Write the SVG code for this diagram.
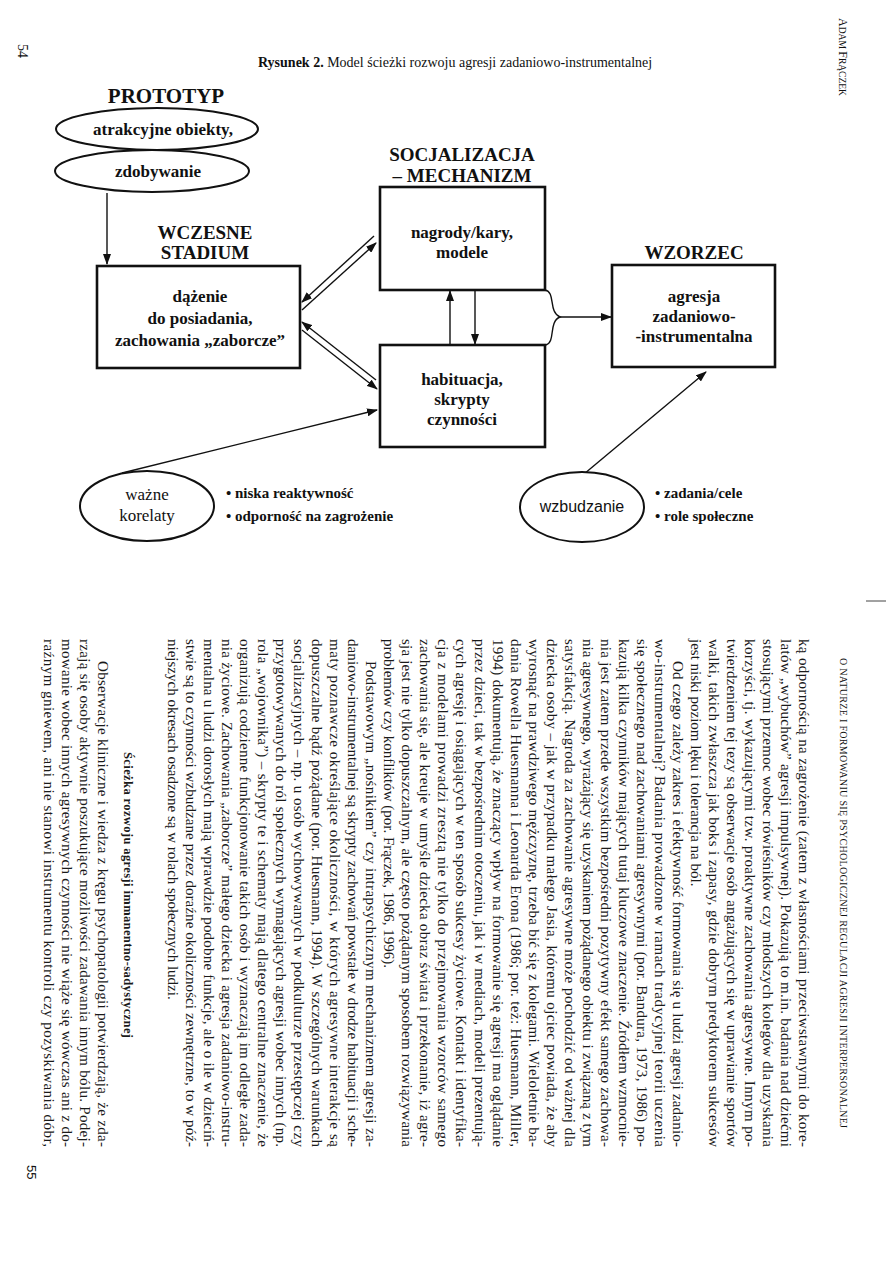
<svg xmlns="http://www.w3.org/2000/svg" width="893" height="1263" viewBox="0 0 893 1263">
<style>
.b{font-family:"Liberation Serif","Times New Roman",serif;font-weight:bold;fill:#111}
.r{font-family:"Liberation Serif","Times New Roman",serif;fill:#111}
.s{font-family:"Liberation Sans",Arial,sans-serif;fill:#111}
.box{fill:#fff;stroke:#111;stroke-width:2.6}
.ell{fill:#fff;stroke:#111;stroke-width:2}
.con{fill:none;stroke:#111;stroke-width:1.4}
.p{font-family:"Liberation Serif","Times New Roman",serif;font-size:15px;fill:#1a1a1a}
</style>
<defs>
<marker id="ah" markerWidth="11" markerHeight="8" refX="10" refY="4" orient="auto" markerUnits="userSpaceOnUse">
<path d="M0,0 L11,4 L0,8 Z" fill="#111"/>
</marker>
</defs>
<rect width="893" height="1263" fill="#fff"/>

<!-- page 54 margin texts -->
<text class="r" font-size="14" transform="translate(18,44) rotate(90)">54</text>
<text class="r" transform="translate(839,18) rotate(90)"><tspan font-size="12">A</tspan><tspan font-size="9.5">DAM </tspan><tspan font-size="12">F</tspan><tspan font-size="9.5">RĄCZEK</tspan></text>
<line x1="866" y1="601" x2="886" y2="601" stroke="#444" stroke-width="1"/>

<!-- caption -->
<text class="r" font-size="14" x="258" y="67"><tspan font-weight="bold">Rysunek 2.</tspan> Model ścieżki rozwoju agresji zadaniowo-instrumentalnej</text>

<!-- labels -->
<text class="b" font-size="21" x="166" y="103" text-anchor="middle">PROTOTYP</text>
<text class="b" font-size="19" x="462" y="161" text-anchor="middle">SOCJALIZACJA</text>
<text class="b" font-size="19" x="462" y="182" text-anchor="middle">– MECHANIZM</text>
<text class="b" font-size="19" x="205" y="239" text-anchor="middle">WCZESNE</text>
<text class="b" font-size="19" x="205" y="259" text-anchor="middle">STADIUM</text>
<text class="b" font-size="19" x="694" y="259" text-anchor="middle">WZORZEC</text>

<!-- connectors -->
<g id="connectors">
<line class="con" x1="107" y1="193" x2="107" y2="264" marker-end="url(#ah)"/>
<line class="con" x1="374" y1="236" x2="302" y2="302" marker-end="url(#ah)"/>
<line class="con" x1="302" y1="310" x2="376" y2="243" marker-end="url(#ah)"/>
<line class="con" x1="376" y1="380" x2="302" y2="322" marker-end="url(#ah)"/>
<line class="con" x1="302" y1="330" x2="377" y2="389" marker-end="url(#ah)"/>
<line class="con" x1="450" y1="345" x2="450" y2="291" marker-end="url(#ah)"/>
<line class="con" x1="475" y1="291" x2="475" y2="344" marker-end="url(#ah)"/>
<path class="con" d="M545,290 C556,292 548,312 560,317 C548,322 556,342 546,345"/>
<line class="con" x1="560" y1="317" x2="611" y2="317" marker-end="url(#ah)"/>
<line class="con" x1="122" y1="473" x2="377" y2="410" marker-end="url(#ah)"/>
<line class="con" x1="584" y1="474" x2="706" y2="372" marker-end="url(#ah)"/>
</g>

<!-- nodes -->
<g id="prototyp">
<ellipse class="ell" cx="157" cy="129" rx="101" ry="21"/>
<text class="b" font-size="17" x="163" y="135" text-anchor="middle">atrakcyjne obiekty,</text>
<ellipse class="ell" cx="152" cy="171" rx="97" ry="21"/>
<text class="b" font-size="17" x="158" y="177" text-anchor="middle">zdobywanie</text>
</g>
<g id="wczesne">
<rect class="box" x="97" y="266" width="203" height="102"/>
<text class="b" font-size="17" x="200" y="302" text-anchor="middle">dążenie</text>
<text class="b" font-size="17" x="200" y="324" text-anchor="middle">do posiadania,</text>
<text class="b" font-size="17" x="200" y="346" text-anchor="middle">zachowania „zaborcze”</text>
</g>
<g id="nagrody">
<rect class="box" x="380" y="187" width="165" height="103"/>
<text class="b" font-size="17" x="462" y="238" text-anchor="middle">nagrody/kary,</text>
<text class="b" font-size="17" x="462" y="258" text-anchor="middle">modele</text>
</g>
<g id="habituacja">
<rect class="box" x="380" y="345" width="165" height="102"/>
<text class="b" font-size="17" x="462" y="385" text-anchor="middle">habituacja,</text>
<text class="b" font-size="17" x="462" y="405" text-anchor="middle">skrypty</text>
<text class="b" font-size="17" x="462" y="425" text-anchor="middle">czynności</text>
</g>
<g id="wzorzec">
<rect class="box" x="612" y="265" width="163" height="102"/>
<text class="b" font-size="17" x="694" y="302" text-anchor="middle">agresja</text>
<text class="b" font-size="17" x="694" y="322" text-anchor="middle">zadaniowo-</text>
<text class="b" font-size="17" x="694" y="342" text-anchor="middle">-instrumentalna</text>
</g>
<g id="korelaty">
<ellipse class="ell" cx="147" cy="506" rx="67" ry="35"/>
<text class="r" font-size="17" x="147" y="500" text-anchor="middle">ważne</text>
<text class="r" font-size="17" x="147" y="521" text-anchor="middle">korelaty</text>
<text class="b" font-size="15" x="226" y="498">• niska reaktywność</text>
<text class="b" font-size="15" x="226" y="521">• odporność na zagrożenie</text>
</g>
<g id="wzbudzanie">
<ellipse class="ell" cx="582" cy="507" rx="62" ry="35"/>
<text class="s" font-size="16" x="582" y="512" text-anchor="middle">wzbudzanie</text>
<text class="b" font-size="15" x="655" y="498">• zadania/cele</text>
<text class="b" font-size="15" x="655" y="521">• role społeczne</text>
</g>

<!-- page 55 text (rotated) -->
<g transform="rotate(90)">
<text class="r" font-size="10" x="658" y="-840" textLength="470" lengthAdjust="spacing">O NATURZE I FORMOWANIU SIĘ PSYCHOLOGICZNEJ REGULACJI AGRESJI INTERPERSONALNEJ</text>
<g class="p">
<text x="639" y="-799" textLength="508" lengthAdjust="spacing">ką odpornością na zagrożenie (zatem z własnościami przeciwstawnymi do kore-</text>
<text x="639" y="-781" textLength="508" lengthAdjust="spacing">latów „wybuchów” agresji impulsywnej). Pokazują to m.in. badania nad dziećmi</text>
<text x="639" y="-763" textLength="508" lengthAdjust="spacing">stosującymi przemoc wobec rówieśników czy młodszych kolegów dla uzyskania</text>
<text x="639" y="-745" textLength="508" lengthAdjust="spacing">korzyści, tj. wykazującymi tzw. proaktywne zachowania agresywne. Innym po-</text>
<text x="639" y="-727" textLength="508" lengthAdjust="spacing">twierdzeniem tej tezy są obserwacje osób angażujących się w uprawianie sportów</text>
<text x="639" y="-709" textLength="508" lengthAdjust="spacing">walki, takich zwłaszcza jak boks i zapasy, gdzie dobrym predyktorem sukcesów</text>
<text x="639" y="-691">jest niski poziom lęku i tolerancja na ból.</text>
<text x="661" y="-673" textLength="486" lengthAdjust="spacing">Od czego zależy zakres i efektywność formowania się u ludzi agresji zadanio-</text>
<text x="639" y="-655" textLength="508" lengthAdjust="spacing">wo-instrumentalnej? Badania prowadzone w ramach tradycyjnej teorii uczenia</text>
<text x="639" y="-637" textLength="508" lengthAdjust="spacing">się społecznego nad zachowaniami agresywnymi (por. Bandura, 1973, 1986) po-</text>
<text x="639" y="-619" textLength="508" lengthAdjust="spacing">kazują kilka czynników mających tutaj kluczowe znaczenie. Źródłem wzmocnie-</text>
<text x="639" y="-601" textLength="508" lengthAdjust="spacing">nia jest zatem przede wszystkim bezpośredni pozytywny efekt samego zachowa-</text>
<text x="639" y="-583" textLength="508" lengthAdjust="spacing">nia agresywnego, wyrażający się uzyskaniem pożądanego obiektu i związaną z tym</text>
<text x="639" y="-565" textLength="508" lengthAdjust="spacing">satysfakcją. Nagroda za zachowanie agresywne może pochodzić od ważnej dla</text>
<text x="639" y="-547" textLength="508" lengthAdjust="spacing">dziecka osoby – jak w przypadku małego Jasia, któremu ojciec powiada, że aby</text>
<text x="639" y="-529" textLength="508" lengthAdjust="spacing">wyrosnąć na prawdziwego mężczyznę, trzeba bić się z kolegami. Wieloletnie ba-</text>
<text x="639" y="-511" textLength="508" lengthAdjust="spacing">dania Rowella Huesmanna i Leonarda Erona (1986; por. też: Huesmann, Miller,</text>
<text x="639" y="-493" textLength="508" lengthAdjust="spacing">1994) dokumentują, że znaczący wpływ na formowanie się agresji ma oglądanie</text>
<text x="639" y="-475" textLength="508" lengthAdjust="spacing">przez dzieci, tak w bezpośrednim otoczeniu, jak i w mediach, modeli prezentują-</text>
<text x="639" y="-456" textLength="508" lengthAdjust="spacing">cych agresję i osiągających w ten sposób sukcesy życiowe. Kontakt i identyfika-</text>
<text x="639" y="-438" textLength="508" lengthAdjust="spacing">cja z modelami prowadzi zresztą nie tylko do przejmowania wzorców samego</text>
<text x="639" y="-420" textLength="508" lengthAdjust="spacing">zachowania się, ale kreuje w umyśle dziecka obraz świata i przekonanie, iż agre-</text>
<text x="639" y="-402" textLength="508" lengthAdjust="spacing">sja jest nie tylko dopuszczalnym, ale często pożądanym sposobem rozwiązywania</text>
<text x="639" y="-384">problemów czy konfliktów (por. Frączek, 1986, 1996).</text>
<text x="661" y="-366" textLength="486" lengthAdjust="spacing">Podstawowym „nośnikiem” czy intrapsychicznym mechanizmem agresji za-</text>
<text x="639" y="-348" textLength="508" lengthAdjust="spacing">daniowo-instrumentalnej są skrypty zachowań powstałe w drodze habituacji i sche-</text>
<text x="639" y="-330" textLength="508" lengthAdjust="spacing">maty poznawcze określające okoliczności, w których agresywne interakcje są</text>
<text x="639" y="-312" textLength="508" lengthAdjust="spacing">dopuszczalne bądź pożądane (por. Huesmann, 1994). W szczególnych warunkach</text>
<text x="639" y="-294" textLength="508" lengthAdjust="spacing">socjalizacyjnych – np. u osób wychowywanych w podkulturze przestępczej czy</text>
<text x="639" y="-276" textLength="508" lengthAdjust="spacing">przygotowywanych do ról społecznych wymagających agresji wobec innych (np.</text>
<text x="639" y="-258" textLength="508" lengthAdjust="spacing">rola „wojownika”) – skrypty te i schematy mają dlatego centralne znaczenie, że</text>
<text x="639" y="-240" textLength="508" lengthAdjust="spacing">organizują codzienne funkcjonowanie takich osób i wyznaczają im odległe zada-</text>
<text x="639" y="-222" textLength="508" lengthAdjust="spacing">nia życiowe. Zachowania „zaborcze” małego dziecka i agresja zadaniowo-instru-</text>
<text x="639" y="-204" textLength="508" lengthAdjust="spacing">mentalna u ludzi dorosłych mają wprawdzie podobne funkcje, ale o ile w dzieciń-</text>
<text x="639" y="-186" textLength="508" lengthAdjust="spacing">stwie są to czynności wzbudzane przez doraźne okoliczności zewnętrzne, to w póź-</text>
<text x="639" y="-168">niejszych okresach osadzone są w rolach społecznych ludzi.</text>
<text x="752" y="-124" font-weight="bold" font-size="12.5" textLength="286" lengthAdjust="spacing">Ścieżka rozwoju agresji immanentno-sadystycznej</text>
<text x="661" y="-98" textLength="486" lengthAdjust="spacing">Obserwacje kliniczne i wiedza z kręgu psychopatologii potwierdzają, że zda-</text>
<text x="639" y="-80" textLength="508" lengthAdjust="spacing">rzają się osoby aktywnie poszukujące możliwości zadawania innym bólu. Podej-</text>
<text x="639" y="-62" textLength="508" lengthAdjust="spacing">mowanie wobec innych agresywnych czynności nie wiąże się wówczas ani z do-</text>
<text x="639" y="-44" textLength="508" lengthAdjust="spacing">raźnym gniewem, ani nie stanowi instrumentu kontroli czy pozyskiwania dóbr,</text>
</g>
<text class="s" font-size="13" x="1165" y="-27">55</text>
</g>
</svg>
